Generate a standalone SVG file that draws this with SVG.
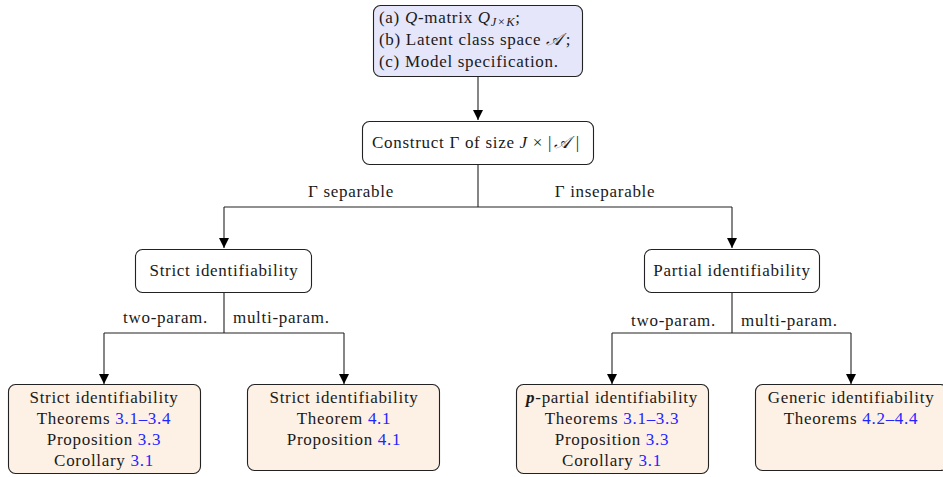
<svg xmlns="http://www.w3.org/2000/svg" width="943" height="477" viewBox="0 0 943 477">
<defs>
<marker id="arr" viewBox="0 0 10 10" refX="10" refY="5" markerWidth="10" markerHeight="10" markerUnits="userSpaceOnUse" orient="auto">
<path d="M0,0 L10,5 L0,10 z" fill="#000"/>
</marker>
<style>
text{font-family:"Liberation Serif","DejaVu Serif",serif;font-size:17px;letter-spacing:0.7px;fill:#1a1a1a}
.c{text-anchor:middle}
.box{stroke:#222;stroke-width:1.1}
.in{fill:#e6e6fa}
.out{fill:#fdf1e6}
.w{fill:#fff}
.ln{fill:none;stroke:#222;stroke-width:1.1}
.b{fill:#2424ff}
.i{font-style:italic}
</style>
</defs>
<rect width="943" height="477" fill="#fff"/>
<g id="connectors">
<path class="ln" d="M478,77 V120" marker-end="url(#arr)"/>
<path class="ln" d="M478,165 V207 M224,207 H732"/>
<path class="ln" d="M224,207 V248" marker-end="url(#arr)"/>
<path class="ln" d="M732,207 V248" marker-end="url(#arr)"/>
<path class="ln" d="M224,293 V333 M104,333 H344"/>
<path class="ln" d="M104,333 V384" marker-end="url(#arr)"/>
<path class="ln" d="M344,333 V384" marker-end="url(#arr)"/>
<path class="ln" d="M732,293 V333 M612,333 H851"/>
<path class="ln" d="M612,333 V384" marker-end="url(#arr)"/>
<path class="ln" d="M851,333 V384" marker-end="url(#arr)"/>
<text x="351" y="197" class="c">Γ separable</text>
<text x="605" y="197" class="c">Γ inseparable</text>
<text x="208" y="323" text-anchor="end">two-param.</text>
<text x="233" y="323">multi-param.</text>
<text x="716" y="326" text-anchor="end">two-param.</text>
<text x="741" y="326">multi-param.</text>
</g>
<g id="input">
<rect class="box in" x="373.5" y="5.5" width="209" height="71" rx="7"/>
<text x="379" y="23">(a) <tspan class="i">Q</tspan>-matrix <tspan class="i">Q</tspan><tspan class="i" font-size="12.5" dy="3">J×K</tspan><tspan dy="-3">;</tspan></text>
<text x="379" y="45">(b) Latent class space <tspan class="i">𝒜</tspan><tspan dx="3">;</tspan></text>
<text x="379" y="67">(c) Model specification.</text>
</g>
<g id="construct">
<rect class="box w" x="362.5" y="121.5" width="231" height="43" rx="7"/>
<text x="476" y="148" class="c">Construct Γ of size <tspan class="i">J</tspan> × |<tspan class="i" dx="2">𝒜</tspan><tspan dx="5">|</tspan></text>
</g>
<g id="strict">
<rect class="box w" x="135.5" y="249.5" width="176" height="43" rx="7"/>
<text x="224" y="276" class="c">Strict identifiability</text>
</g>
<g id="partial">
<rect class="box w" x="644.5" y="249.5" width="175" height="43" rx="7"/>
<text x="732" y="276" class="c">Partial identifiability</text>
</g>
<g id="strict-two">
<rect class="box out" x="8.5" y="384.5" width="192" height="89" rx="7"/>
<text x="104" y="403" class="c">Strict identifiability</text>
<text x="104" y="424" class="c">Theorems <tspan class="b">3.1–3.4</tspan></text>
<text x="104" y="445" class="c">Proposition <tspan class="b">3.3</tspan></text>
<text x="104" y="466" class="c">Corollary <tspan class="b">3.1</tspan></text>
</g>
<g id="strict-multi">
<rect class="box out" x="247.5" y="384.5" width="192" height="86" rx="7"/>
<text x="344" y="403" class="c">Strict identifiability</text>
<text x="344" y="424" class="c">Theorem <tspan class="b">4.1</tspan></text>
<text x="344" y="445" class="c">Proposition <tspan class="b">4.1</tspan></text>
</g>
<g id="partial-two">
<rect class="box out" x="516.5" y="384.5" width="192" height="89" rx="7"/>
<text x="612" y="403" class="c"><tspan font-weight="bold" font-style="italic">p</tspan>-partial identifiability</text>
<text x="612" y="424" class="c">Theorems <tspan class="b">3.1–3.3</tspan></text>
<text x="612" y="445" class="c">Proposition <tspan class="b">3.3</tspan></text>
<text x="612" y="466" class="c">Corollary <tspan class="b">3.1</tspan></text>
</g>
<g id="generic">
<rect class="box out" x="755.5" y="384.5" width="192" height="86" rx="7"/>
<text x="851" y="403" class="c">Generic identifiability</text>
<text x="851" y="424" class="c">Theorems <tspan class="b">4.2–4.4</tspan></text>
</g>
</svg>
